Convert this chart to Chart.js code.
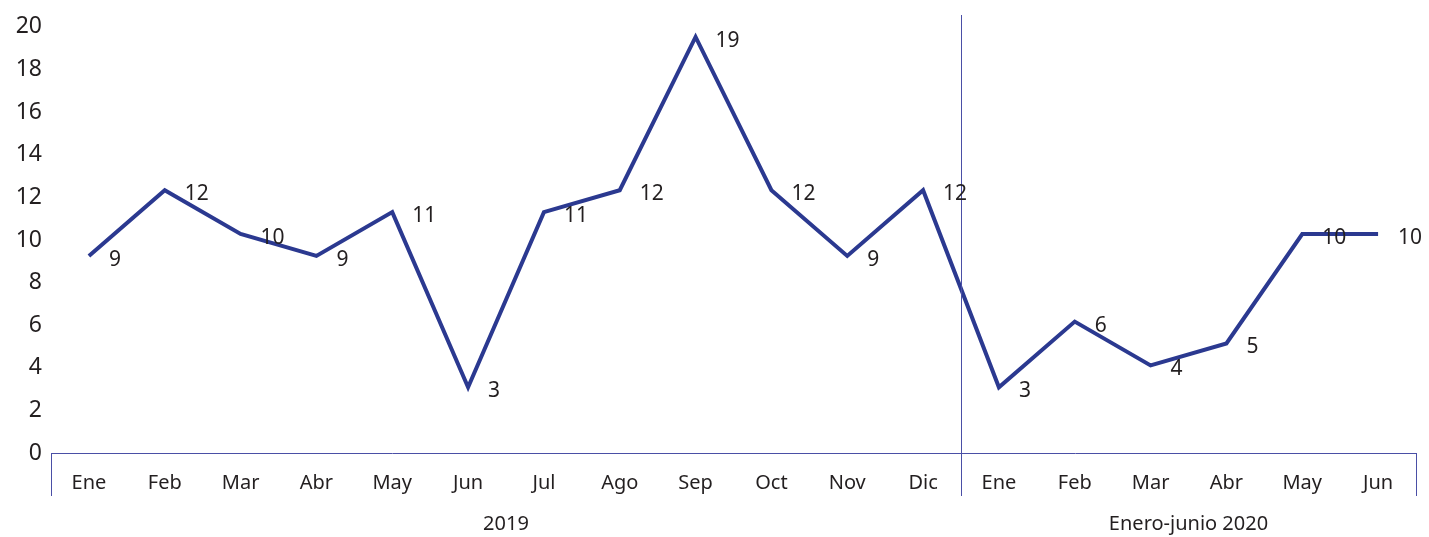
<!DOCTYPE html>
<html>
<head>
<meta charset="utf-8">
<script src="https://cdn.jsdelivr.net/npm/chart.js@4"></script>
<style>
  html, body { margin: 0; padding: 0; background: #fff; }
  #wrap { width: 1429px; height: 537px; }
</style>
</head>
<body>
<div id="wrap"><canvas id="chart" width="1429" height="537"></canvas></div>
<script>
// datos
const months = ["Ene", "Feb", "Mar", "Abr", "May", "Jun", "Jul", "Ago", "Sep", "Oct", "Nov", "Dic",
                "Ene", "Feb", "Mar", "Abr", "May", "Jun"];
const values = [9, 12, 10, 9, 11, 3, 11, 12, 19, 12, 9, 12, 3, 6, 4, 5, 10, 10];
const groups = ["2019", "Enero-junio 2020"];
const groupSizes = [12, 6];
const yTicks = [0, 2, 4, 6, 8, 10, 12, 14, 16, 18, 20];

const FONT = "'Noto Sans', sans-serif";
const LINE_BLUE = "#2b3990";
const AXIS_BLUE = "#4a4fa6";
const TEXT = "#231f20";

// lineas verticales, etiquetas de grupo y etiquetas de datos
const extras = {
  id: "extras",
  afterDraw(chart) {
    const ctx = chart.ctx;
    const x = chart.scales.x;
    const area = chart.chartArea;
    const step = (x.right - x.left) / months.length;
    const bottom = area.bottom + 43;

    ctx.save();
    ctx.strokeStyle = AXIS_BLUE;
    ctx.lineWidth = 1;
    let idx = 0;
    const edges = [x.left];
    groupSizes.forEach(n => { idx += n; edges.push(x.left + idx * step); });
    edges.forEach((ex, i) => {
      const px = Math.round(ex) + 0.5;
      const top = (i === 0 || i === edges.length - 1) ? area.bottom : area.top;
      ctx.beginPath();
      ctx.moveTo(px, top);
      ctx.lineTo(px, bottom);
      ctx.stroke();
    });

    ctx.fillStyle = TEXT;
    ctx.font = "20px " + FONT;
    ctx.textAlign = "center";
    ctx.textBaseline = "middle";
    groups.forEach((g, i) => {
      ctx.fillText(g, (edges[i] + edges[i + 1]) / 2, 524);
    });

    const meta = chart.getDatasetMeta(0);
    ctx.font = "21px " + FONT;
    ctx.textAlign = "left";
    meta.data.forEach((pt, i) => {
      ctx.fillText(String(values[i]), pt.x + 20, pt.y + 4);
    });
    ctx.restore();
  }
};

new Chart(document.getElementById("chart"), {
  type: "line",
  data: {
    labels: months,
    datasets: [{
      data: values,
      borderColor: LINE_BLUE,
      borderWidth: 4,
      pointRadius: 0,
      tension: 0,
      fill: false,
      yAxisID: "y"
    }]
  },
  options: {
    responsive: false,
    animation: false,
    layout: { padding: { top: 15, right: 13, left: 0, bottom: 0 } },
    plugins: { legend: { display: false }, tooltip: { enabled: false } },
    scales: {
      x: {
        offset: true,
        grid: { display: false, drawTicks: false },
        border: { display: true, color: AXIS_BLUE, width: 1 },
        ticks: { color: TEXT, font: { family: FONT, size: 20 }, padding: 18, maxRotation: 0, autoSkip: false },
        afterFit(s) { s.height = 84; s.paddingLeft = 0; s.paddingRight = 0; }
      },
      y: {
        display: false,
        min: 0,
        max: 20
      },
      yLabels: {
        position: "left",
        min: 0,
        max: 20.56,
        grid: { display: false, drawTicks: false },
        border: { display: false },
        afterBuildTicks(s) { s.ticks = yTicks.map(v => ({ value: v })); },
        ticks: { color: TEXT, font: { family: FONT, size: 23 }, padding: 9 },
        afterFit(s) { s.width = 51; s.paddingTop = 0; s.paddingBottom = 0; }
      }
    }
  },
  plugins: [extras]
});
</script>
</body>
</html>
